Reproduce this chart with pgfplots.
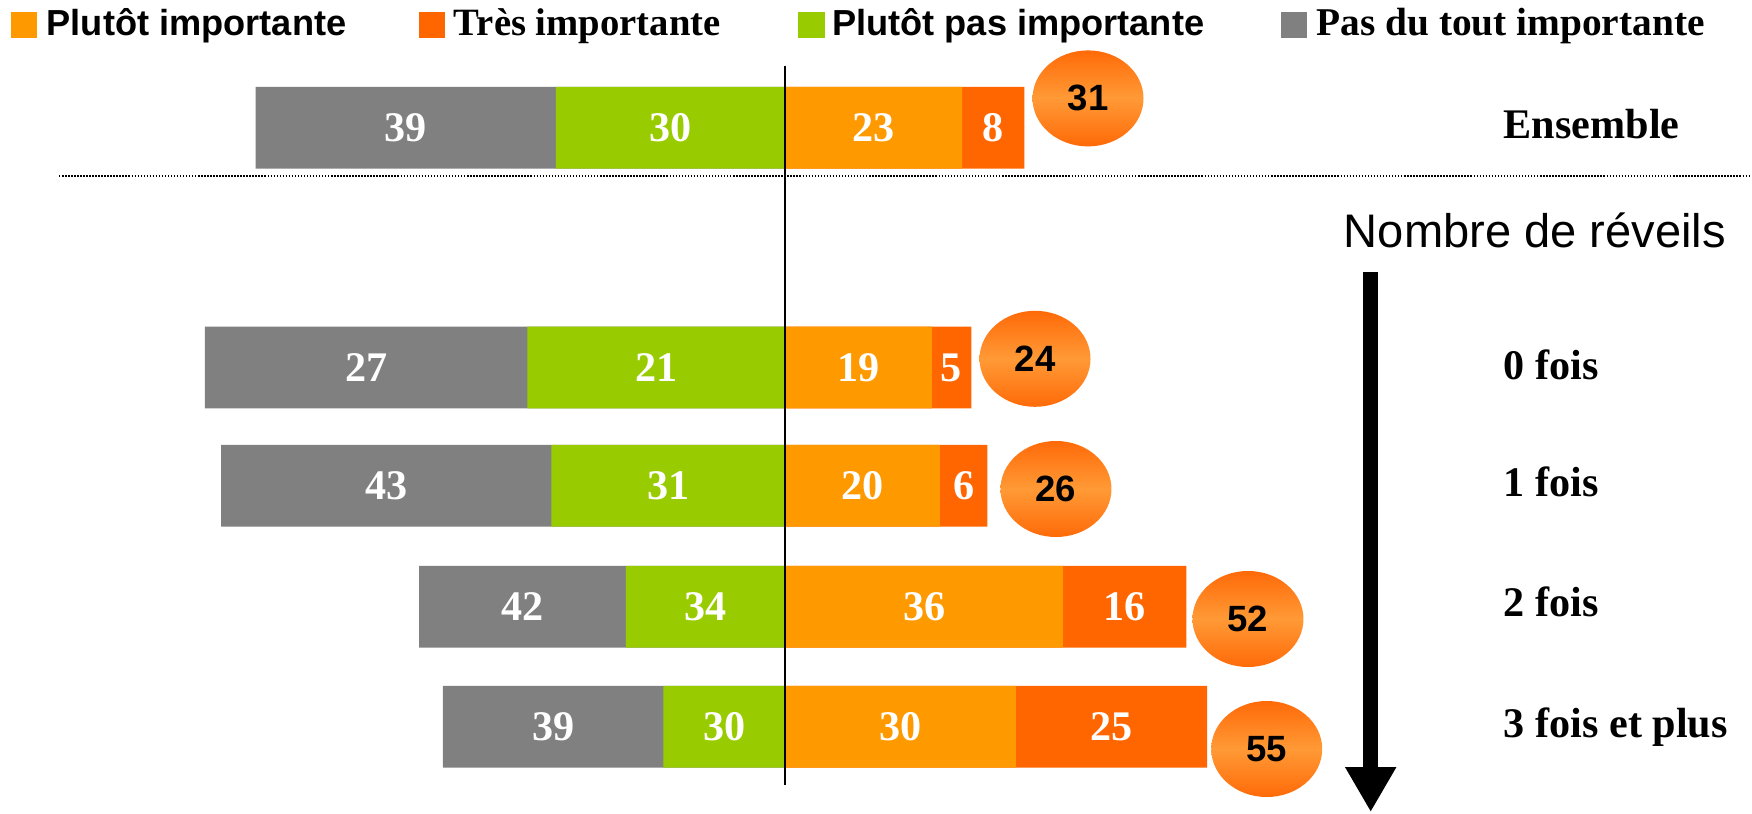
\documentclass[border=0pt]{standalone}
\usepackage{fontspec}
\setmainfont{Liberation Serif}
\setsansfont{Liberation Sans}
\usepackage{pgfplots}
\pgfplotsset{compat=1.18}
\usetikzlibrary{shapes.geometric, arrows.meta}
\definecolor{cgray}{HTML}{808080}
\definecolor{cgreen}{HTML}{99CC00}
\definecolor{corange}{HTML}{FF9900}
\definecolor{cred}{HTML}{FF6600}
\definecolor{circedge}{HTML}{FF6A08}
\definecolor{circmid}{HTML}{FF9A36}
\begin{document}
\begin{tikzpicture}
\begin{axis}[
  at={(0,0)},
  scale only axis, width=17.52cm, height=8.13cm,
  xmin=-102.28, xmax=125.85, ymin=0, ymax=813,
  hide axis, clip=false,
  mybar/.style={xbar, bar shift=0pt, bar width=0.817cm, draw=none},
  lab/.style={draw=none, mark=none, nodes near coords, point meta=explicit symbolic,
    every node near coord/.append style={anchor=center, text=white, inner sep=0pt,
      font=\fontsize{12}{14}\selectfont\bfseries}},
]
% bar ends (left: gray outer end, green inner end; right: orange inner end, red outer end)
% rows: Ensemble, 0 fois, 1 fois, 2 fois, 3 fois et plus
\addplot[mybar, fill=cgray] coordinates {(-69.0,685.3) (-75.6,445.6) (-73.5,327.2) (-47.7,206.2) (-44.6,86.2)};
\addplot[mybar, fill=cgreen] coordinates {(-29.9,685.3) (-33.6,445.6) (-30.5,327.2) (-20.8,206.2) (-15.9,86.2)};
\addplot[mybar, fill=cred] coordinates {(31.1,685.3) (24.2,445.6) (26.3,327.2) (52.2,206.2) (54.9,86.2)};
\addplot[mybar, fill=corange] coordinates {(23.0,685.3) (19.05,445.6) (20.1,327.2) (36.1,206.2) (30.0,86.2)};
% printed values
\addplot[lab] coordinates {
 (-49.45,685.3) [39] (-14.95,685.3) [30] (11.5,685.3) [23] (27.05,685.3) [8]
 (-54.6,445.6) [27] (-16.8,445.6) [21] (9.52,445.6) [19] (21.62,445.6) [5]
 (-52.0,327.2) [43] (-15.25,327.2) [31] (10.05,327.2) [20] (23.2,327.2) [6]
 (-34.25,206.2) [42] (-10.4,206.2) [34] (18.05,206.2) [36] (44.15,206.2) [16]
 (-30.25,86.2) [39] (-7.95,86.2) [30] (15.0,86.2) [30] (42.45,86.2) [25]
};
% totals in circles
\addplot[draw=none, mark=none, nodes near coords, point meta=explicit symbolic,
  every node near coord/.append style={anchor=center, ellipse, inner sep=0pt,
    minimum width=1.11cm, minimum height=0.96cm, draw=none,
    top color=circedge, bottom color=circedge, middle color=circmid,
    text=black, font=\fontsize{10.4}{12}\selectfont\sffamily\bfseries}]
 coordinates {(39.39,714.6) [31] (32.49,454.2) [24] (35.22,324) [26] (60.22,194) [52] (62.66,64) [55]};
\end{axis}
\begin{scope}[shift={(current axis.north west)}, x=0.01cm, y=-0.01cm]
  % legend
  \fill[corange] (11.5,11.7) rectangle (37.3,37.7);
  \node[anchor=base west, inner sep=0pt, font=\fontsize{10.3}{12}\selectfont\sffamily\bfseries] at (46,36) {Plutôt importante};
  \fill[cred] (419,11.7) rectangle (445.5,37.7);
  \node[anchor=base west, inner sep=0pt, font=\fontsize{11}{13}\selectfont\bfseries] at (453.5,36) {Très importante};
  \fill[cgreen] (798,11.7) rectangle (825,37.7);
  \node[anchor=base west, inner sep=0pt, font=\fontsize{10.3}{12}\selectfont\sffamily\bfseries] at (832,36) {Plutôt pas importante};
  \fill[cgray] (1281.5,11.7) rectangle (1308,37.7);
  \node[anchor=base west, inner sep=0pt, font=\fontsize{11.2}{13}\selectfont\bfseries] at (1316.6,36) {Pas du tout importante};
  % separators
  \draw[black, line width=0.43pt, dash pattern=on 0.43pt off 0.43pt] (59,176) -- (1752,176);
  \draw[black, line width=0.7pt] (785.5,65.7) -- (785.5,785.7);
  % row labels
  \begin{scope}[every node/.style={anchor=base west, inner sep=0pt, font=\fontsize{12}{14}\selectfont\bfseries}]
    \node at (1504,138.3) {Ensemble};
    \node at (1504,380) {0 fois};
    \node at (1504,497) {1 fois};
    \node at (1504,617) {2 fois};
    \node at (1504,738.3) {3 fois et plus};
  \end{scope}
  \node[anchor=base west, inner sep=0pt, font=\fontsize{13.4}{15}\selectfont\sffamily] at (1344,248) {Nombre de réveils};
  \draw[line width=4.38pt, -{Triangle[width=13.66pt, length=12.8pt]}] (1371.5,272) -- (1371.5,812.5);
\end{scope}
\pgfresetboundingbox
\useasboundingbox (current axis.south west) rectangle (current axis.north east);
\end{tikzpicture}
\end{document}
